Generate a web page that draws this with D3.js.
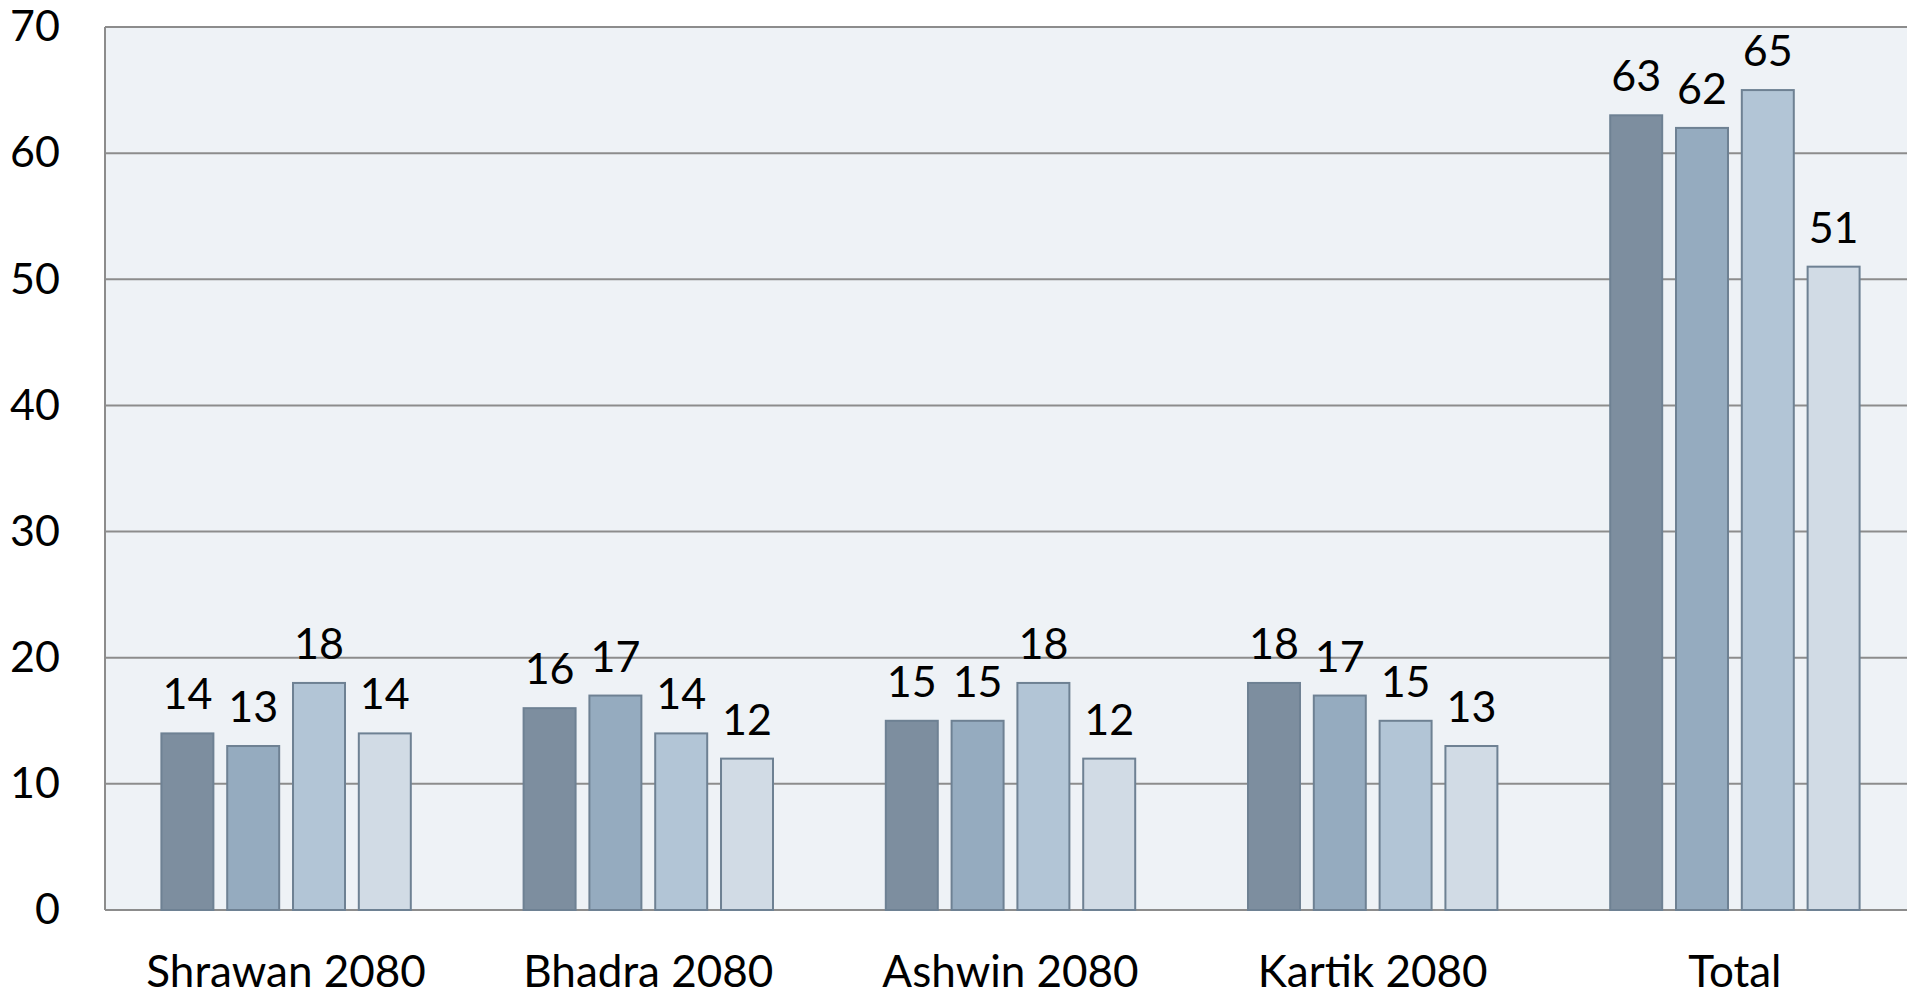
<!DOCTYPE html>
<html>
<head>
<meta charset="utf-8">
<script src="https://cdn.jsdelivr.net/npm/d3@7.9.0/dist/d3.min.js"></script>
<style>
  html, body { margin: 0; padding: 0; background: #fff; overflow: hidden; }
  svg { display: block; font-family: Lato, "Open Sans", sans-serif; }
</style>
</head>
<body>
<svg id="chart" width="1907" height="997"></svg>
<script>
// data
const months = ['Shrawan 2080', 'Bhadra 2080', 'Ashwin 2080', 'Kartik 2080', 'Total'];
const series = ['s1', 's2', 's3', 's4'];
const s1 = [14, 16, 15, 18, 63];
const s2 = [13, 17, 15, 17, 62];
const s3 = [18, 14, 18, 15, 65];
const s4 = [14, 12, 12, 13, 51];
const yTicks = [0, 10, 20, 30, 40, 50, 60, 70];
const colors = ['#7d8e9f', '#95abbf', '#b2c5d6', '#d1dbe5'];

const rows = months.map((m, i) => ({
  month: m,
  values: [s1[i], s2[i], s3[i], s4[i]].map((v, j) => ({ key: series[j], value: v }))
}));

const margin = { left: 105, top: 27, right: -9, bottom: 87 };
const width = 1907, height = 997;

const svg = d3.select('#chart');

const x0 = d3.scaleBand()
  .domain(months)
  .range([margin.left, width - margin.right])
  .padding(0);

const x1 = d3.scaleBand()
  .domain(series)
  .range([0, x0.bandwidth()])
  .paddingInner(0.21)
  .paddingOuter(0.857);

const y = d3.scaleLinear()
  .domain([0, 70])
  .range([height - margin.bottom, margin.top]);

const color = d3.scaleOrdinal().domain(series).range(colors);

// plot background
svg.append('rect')
  .attr('x', margin.left)
  .attr('y', margin.top)
  .attr('width', width - margin.right - margin.left)
  .attr('height', y(0) - margin.top)
  .attr('fill', '#eef2f6');

// gridlines
svg.append('g')
  .selectAll('line')
  .data(yTicks)
  .join('line')
  .attr('x1', margin.left)
  .attr('x2', width - margin.right)
  .attr('y1', d => y(d))
  .attr('y2', d => y(d))
  .attr('stroke', '#8c8c8c')
  .attr('stroke-width', 2);

// left axis line
svg.append('line')
  .attr('x1', margin.left)
  .attr('x2', margin.left)
  .attr('y1', margin.top)
  .attr('y2', y(0))
  .attr('stroke', '#8c8c8c')
  .attr('stroke-width', 2);

// y tick labels
const yAxis = d3.axisLeft(y).tickValues(yTicks).tickSize(0).tickPadding(45);
const gy = svg.append('g')
  .attr('transform', `translate(${margin.left},0)`)
  .call(yAxis);
gy.select('.domain').remove();
gy.selectAll('text')
  .attr('font-family', 'Lato, sans-serif')
  .attr('font-size', 43)
  .attr('fill', '#000');

// bars
const groups = svg.append('g')
  .selectAll('g')
  .data(rows)
  .join('g')
  .attr('transform', d => `translate(${x0(d.month)},0)`);

groups.selectAll('rect')
  .data(d => d.values)
  .join('rect')
  .attr('x', d => x1(d.key))
  .attr('y', d => y(d.value))
  .attr('width', x1.bandwidth())
  .attr('height', d => y(0) - y(d.value))
  .attr('fill', d => color(d.key))
  .attr('stroke', '#6e8193')
  .attr('stroke-width', 2);

// value labels
groups.selectAll('text')
  .data(d => d.values)
  .join('text')
  .attr('x', d => x1(d.key) + x1.bandwidth() / 2)
  .attr('y', d => y(d.value) - 24)
  .attr('text-anchor', 'middle')
  .attr('font-size', 43)
  .attr('fill', '#000')
  .text(d => d.value);

// x axis labels
const xAxis = d3.axisBottom(x0).tickSize(0).tickPadding(46);
const gx = svg.append('g')
  .attr('transform', `translate(0,${y(0)})`)
  .call(xAxis);
gx.select('.domain').remove();
gx.selectAll('text')
  .attr('font-family', 'Lato, sans-serif')
  .attr('font-size', 44)
  .attr('fill', '#000');
</script>
</body>
</html>
